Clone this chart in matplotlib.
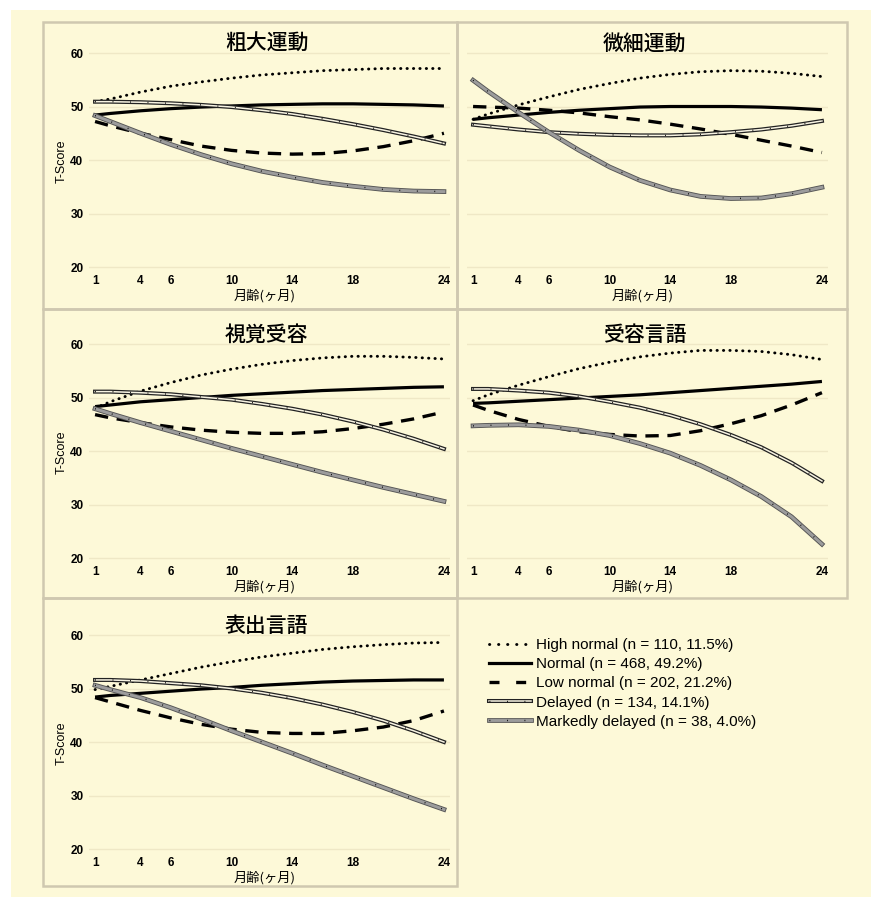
import matplotlib
matplotlib.use("Agg")
import matplotlib.pyplot as plt
from matplotlib.lines import Line2D
from matplotlib.patches import Rectangle

plt.rcParams['font.family'] = ['Liberation Sans', 'Noto Sans CJK JP', 'DejaVu Sans']

months = [1, 2, 4, 6, 8, 10, 12, 14, 16, 18, 20, 22, 24]
xticks = [1, 4, 6, 10, 14, 18, 24]
yticks = [20, 30, 40, 50, 60]

group_labels = ["High normal (n = 110, 11.5%)", "Normal (n = 468, 49.2%)",
                "Low normal (n = 202, 21.2%)", "Delayed (n = 134, 14.1%)",
                "Markedly delayed (n = 38, 4.0%)"]

# 粗大運動
gm_high = [50.9, 51.4, 52.7, 53.8, 54.6, 55.3, 55.9, 56.3, 56.7, 56.9, 57.1, 57.1, 57.1]
gm_normal = [48.4, 48.7, 49.2, 49.6, 49.9, 50.1, 50.3, 50.4, 50.5, 50.5, 50.4, 50.3, 50.1]
gm_low = [47.2, 46.4, 45.0, 43.8, 42.6, 41.8, 41.3, 41.1, 41.2, 41.7, 42.5, 43.6, 45.0]
gm_delayed = [50.9, 50.9, 50.8, 50.6, 50.3, 49.9, 49.3, 48.6, 47.7, 46.7, 45.6, 44.4, 43.1]
gm_marked = [48.3, 47.2, 45.0, 42.9, 41.0, 39.3, 37.9, 36.8, 35.8, 35.1, 34.5, 34.2, 34.1]

# 微細運動
fm_high = [47.6, 48.6, 50.3, 51.8, 53.2, 54.3, 55.3, 56.0, 56.5, 56.7, 56.6, 56.2, 55.6]
fm_normal = [47.6, 47.9, 48.4, 48.9, 49.3, 49.6, 49.9, 50.0, 50.0, 50.0, 49.9, 49.7, 49.4]
fm_low = [50.0, 49.9, 49.7, 49.3, 48.8, 48.1, 47.5, 46.7, 45.8, 44.8, 43.7, 42.6, 41.4]
fm_delayed = [46.6, 46.3, 45.7, 45.2, 44.9, 44.7, 44.6, 44.6, 44.8, 45.2, 45.7, 46.4, 47.3]
fm_marked = [54.9, 52.8, 48.9, 45.2, 41.8, 38.7, 36.2, 34.4, 33.2, 32.8, 32.9, 33.7, 34.9]

# 視覚受容
vr_high = [48.0, 49.2, 51.2, 52.8, 54.2, 55.3, 56.2, 56.9, 57.4, 57.7, 57.7, 57.5, 57.2]
vr_normal = [48.3, 48.6, 49.2, 49.6, 50.0, 50.4, 50.7, 51.0, 51.3, 51.5, 51.7, 51.9, 52.0]
vr_low = [46.8, 46.2, 45.3, 44.5, 43.9, 43.5, 43.3, 43.3, 43.6, 44.2, 45.0, 46.0, 47.3]
vr_delayed = [51.1, 51.1, 50.9, 50.6, 50.1, 49.6, 48.8, 47.9, 46.8, 45.5, 44.0, 42.3, 40.4]
vr_marked = [47.9, 47.0, 45.3, 43.7, 42.1, 40.5, 39.0, 37.5, 36.0, 34.6, 33.2, 31.9, 30.6]

# 受容言語
rl_high = [49.4, 50.5, 52.3, 53.9, 55.4, 56.6, 57.6, 58.3, 58.8, 58.8, 58.6, 58.0, 57.1]
rl_normal = [48.9, 49.0, 49.3, 49.6, 49.9, 50.2, 50.5, 50.9, 51.3, 51.7, 52.1, 52.5, 53.0]
rl_low = [48.6, 47.6, 45.9, 44.6, 43.6, 43.1, 42.8, 42.9, 43.8, 45.1, 46.6, 48.6, 50.9]
rl_delayed = [51.6, 51.6, 51.3, 50.9, 50.2, 49.2, 48.1, 46.7, 45.0, 43.0, 40.7, 37.8, 34.4]
rl_marked = [44.7, 44.8, 44.9, 44.6, 43.9, 42.9, 41.4, 39.6, 37.3, 34.6, 31.5, 27.7, 22.6]

# 表出言語
el_high = [49.8, 50.4, 51.6, 52.8, 54.0, 55.0, 55.9, 56.6, 57.3, 57.8, 58.2, 58.5, 58.6]
el_normal = [48.4, 48.7, 49.1, 49.5, 49.9, 50.2, 50.6, 50.9, 51.2, 51.4, 51.5, 51.6, 51.6]
el_low = [48.3, 47.5, 45.9, 44.5, 43.3, 42.4, 41.8, 41.6, 41.6, 42.1, 42.8, 44.0, 45.8]
el_delayed = [51.6, 51.6, 51.4, 51.0, 50.6, 50.0, 49.2, 48.2, 47.0, 45.6, 44.0, 42.1, 40.0]
el_marked = [50.6, 49.8, 48.3, 46.4, 44.3, 42.1, 40.0, 37.9, 35.7, 33.6, 31.5, 29.4, 27.4]

panels = [
    ("粗大運動", [gm_high, gm_normal, gm_low, gm_delayed, gm_marked]),
    ("微細運動", [fm_high, fm_normal, fm_low, fm_delayed, fm_marked]),
    ("視覚受容", [vr_high, vr_normal, vr_low, vr_delayed, vr_marked]),
    ("受容言語", [rl_high, rl_normal, rl_low, rl_delayed, rl_marked]),
    ("表出言語", [el_high, el_normal, el_low, el_delayed, el_marked]),
]

W, H = 871, 897
BG = '#fdf9d8'
BORDER = '#cfc8b0'
GRID = '#efe8c6'
CJK = ['Noto Sans CJK JP', 'DejaVu Sans']

fig = plt.figure(figsize=(W / 100, H / 100), dpi=100, facecolor='white')


def fx(px):
    return px / W


def fy(py):
    return 1 - py / H


fig.patches.append(Rectangle((fx(11), 0), 1 - fx(11), fy(10), transform=fig.transFigure,
                             facecolor=BG, edgecolor='none', zorder=-5))

cols = [43, 457, 847]
rows = [22, 309, 598, 886]
# panel borders (legend cell has none)
for i in range(5):
    r, c = divmod(i, 2)
    x0, x1 = cols[c], cols[c + 1]
    y0, y1 = rows[r], rows[r + 1]
    fig.patches.append(Rectangle((fx(x0), fy(y1)), (x1 - x0) / W, (y1 - y0) / H,
                                 transform=fig.transFigure, facecolor='none',
                                 edgecolor=BORDER, lw=1.8, zorder=1))


def styled_lines(ax, x, y, kind):
    if kind == 0:
        ax.plot(x, y, color='black', lw=2.1, linestyle=(0, (0.1, 2.1)),
                dash_capstyle='round')
    elif kind == 1:
        ax.plot(x, y, color='black', lw=2.3, solid_capstyle='butt')
    elif kind == 2:
        ax.plot(x, y, color='black', lw=2.4, linestyle=(0, (4, 2.6)))
    elif kind == 3:
        ax.plot(x, y, color='#222222', lw=2.9)
        ax.plot(x, y, color='#f7f3e2', lw=1.1)
        ax.plot(x, y, color='black', lw=1.0, linestyle=(0, (0.6, 12)))
    else:
        ax.plot(x, y, color='#555555', lw=3.4)
        ax.plot(x, y, color='#9c9c9c', lw=2.1)
        ax.plot(x, y, color='black', lw=1.0, linestyle=(0, (0.6, 12)))


for i, (title, series) in enumerate(panels):
    r, c = divmod(i, 2)
    dx = 0 if c == 0 else 378
    dy = [0, 291, 582][r]
    left, right = 89 + dx, 450 + dx
    top, bottom = 47.65 + dy, 269.7 + dy
    ax = fig.add_axes([fx(left), fy(bottom), (right - left) / W, (bottom - top) / H])
    ax.set_facecolor('none')
    ax.set_xlim(0.6, 24.4)
    ax.set_ylim(19.5, 61)
    for s in ax.spines.values():
        s.set_visible(False)
    ax.set_yticks(yticks)
    ax.set_xticks(xticks)
    ax.grid(axis='y', color=GRID, lw=1.0)
    ax.set_axisbelow(True)
    ax.tick_params(length=0, labelsize=8.5, pad=4)
    for lab in ax.get_xticklabels() + ax.get_yticklabels():
        lab.set_fontweight('bold')
    if c == 1:
        ax.set_yticklabels([])
    else:
        fig.text(fx(62), fy((top + bottom) / 2 + 3), 'T-Score', rotation=90,
                 ha='center', va='center', fontsize=9)
    fig.text(fx(265 + dx), fy(296 + dy), '月齢(ヶ月)', ha='center', va='center',
             fontsize=9.5, family=CJK)
    for k, vals in enumerate(series):
        styled_lines(ax, months, vals, k)
    fig.text(fx((left + right) / 2 - 3), fy(44 + dy), title, ha='center', va='center',
             fontsize=15, fontweight='medium', family=CJK)

# legend
handles = [
    Line2D([], [], color='black', lw=2.1, linestyle=(0, (0.1, 3.0)), dash_capstyle='round'),
    Line2D([], [], color='black', lw=2.3),
    Line2D([], [], color='black', lw=2.4, linestyle=(0, (3, 5))),
    (Line2D([], [], color='#222222', lw=2.9), Line2D([], [], color='#f7f3e2', lw=1.1),
     Line2D([], [], color='black', lw=1.0, linestyle=(0, (0.6, 12)))),
    (Line2D([], [], color='#555555', lw=3.4), Line2D([], [], color='#9c9c9c', lw=2.1),
     Line2D([], [], color='black', lw=1.0, linestyle=(0, (0.6, 12)))),
]
fig.legend(handles, group_labels, loc='upper left', bbox_to_anchor=(fx(489), fy(638)),
           frameon=False, fontsize=11, handlelength=2.75, handletextpad=0.3,
           labelspacing=0.34, borderpad=0, borderaxespad=0)

fig.savefig('out.png', dpi=100, facecolor='white')
